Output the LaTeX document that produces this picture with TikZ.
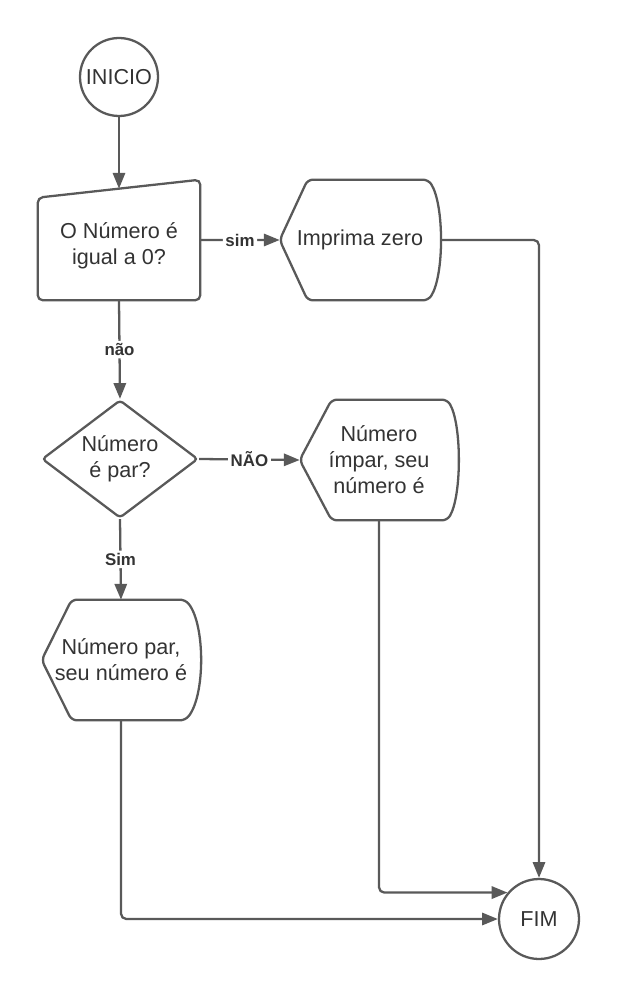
\documentclass[tikz,border=0pt]{standalone}
\usepackage{fontspec}
\setmainfont{Liberation Sans}
\usetikzlibrary{shapes.geometric,arrows.meta}
\definecolor{linha}{HTML}{595959}
\definecolor{texto}{HTML}{333333}

\begin{document}
\begin{tikzpicture}[x=0.02cm,y=-0.02cm,
    every node/.style={text=texto,font=\fontsize{12.3}{14.8}\selectfont,align=center},
    borda/.style={draw=linha,line width=1.3pt,rounded corners=3pt},
    seta/.style={draw=linha,line width=1.3pt,rounded corners=3pt,-{Triangle[length=9pt,width=7pt]}},
    rotulo/.style={fill=white,inner sep=1.5pt,font=\fontsize{9.6}{11}\selectfont\bfseries},
    circulo/.style={circle,draw=linha,line width=1.3pt,inner sep=0pt},
    caixa/.style={inner sep=0pt}]
    \useasboundingbox (0,0) rectangle (620,1000);

    \node[circulo,minimum size=1.56cm] (inicio) at (119,77) {INICIO};

    \node[caixa,minimum width=3.24cm,minimum height=2.28cm] (entrada) at (119,246) {O Número é\\igual a 0?};
    \draw[borda] ([yshift=0.06cm]entrada.south west) -- ([yshift=-0.18cm]entrada.north west) -- ([yshift=0.18cm]entrada.north east) -- ([yshift=0.06cm]entrada.south east) -- cycle;

    \node[caixa,minimum width=3.2cm,minimum height=2.4cm] (zero) at (360,240) {Imprima zero};
    \draw[borda] (zero.west) -- ([xshift=0.56cm]zero.north west) -- ([xshift=-0.24cm]zero.north east)
        .. controls ([xshift=0.08cm,yshift=-0.5cm]zero.north east) and ([xshift=0.08cm,yshift=0.5cm]zero.south east) .. ([xshift=-0.24cm]zero.south east)
        -- ([xshift=0.56cm]zero.south west) -- cycle;

    \node[diamond,shape aspect=1.3,draw=linha,line width=1.3pt,rounded corners=2pt,inner sep=0pt,
        minimum width=3.12cm,minimum height=2.36cm] (teste) at (120,459) {Número\\é par?};

    \node[caixa,minimum width=3.16cm,minimum height=2.4cm] (impar) at (379,460) {Número\\ímpar, seu\\número é};
    \draw[borda] (impar.west) -- ([xshift=0.64cm]impar.north west) -- ([xshift=-0.22cm]impar.north east)
        .. controls ([xshift=0.07cm,yshift=-0.5cm]impar.north east) and ([xshift=0.07cm,yshift=0.5cm]impar.south east) .. ([xshift=-0.22cm]impar.south east)
        -- ([xshift=0.64cm]impar.south west) -- cycle;

    \node[caixa,minimum width=3.16cm,minimum height=2.4cm] (par) at (121,660) {Número par,\\seu número é};
    \draw[borda] (par.west) -- ([xshift=0.6cm]par.north west) -- ([xshift=-0.3cm]par.north east)
        .. controls ([xshift=0.1cm,yshift=-0.5cm]par.north east) and ([xshift=0.1cm,yshift=0.5cm]par.south east) .. ([xshift=-0.3cm]par.south east)
        -- ([xshift=0.6cm]par.south west) -- cycle;

    \node[circulo,minimum size=1.6cm] (fim) at (539,919) {FIM};

    % ligacoes
    \draw[seta] (inicio.south) -- (entrada.north);
    \draw[seta] ([yshift=0.12cm]entrada.east) -- node[rotulo] {sim} (zero.west);
    \draw[seta] (zero.east) -| (fim.north);
    \draw[seta] ([yshift=0.06cm]entrada.south) -- node[rotulo] {não} (teste.north);
    \draw[seta] (teste.east) -- node[rotulo] {NÃO} (impar.west);
    \draw[seta] (teste.south) -- node[rotulo] {Sim} (par.north);
    \draw[seta] (impar.south) |- (fim.140);
    \draw[seta] (par.south) |- (fim.west);
\end{tikzpicture}
\end{document}
